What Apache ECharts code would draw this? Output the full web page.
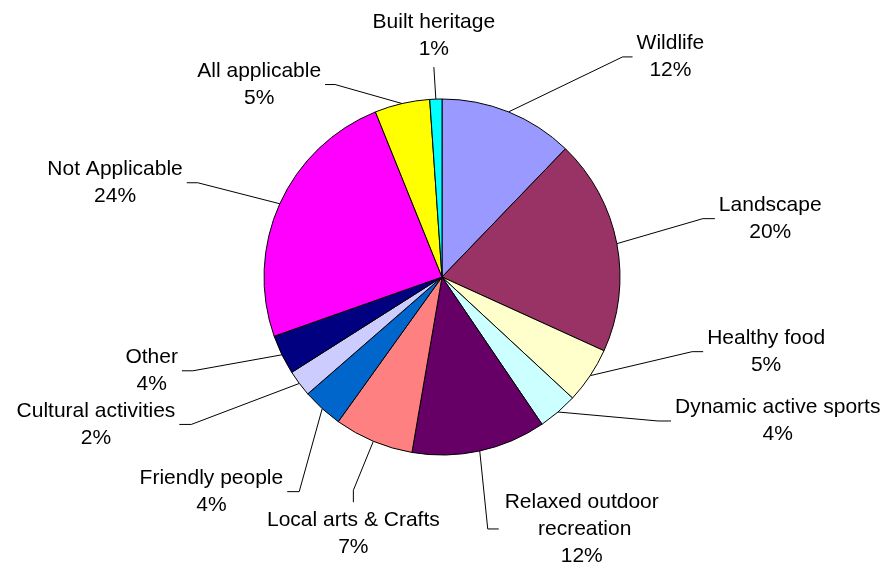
<!DOCTYPE html>
<html>
<head>
<meta charset="utf-8">
<script src="https://cdn.jsdelivr.net/npm/echarts@6/dist/echarts.min.js"></script>
<style>
  html, body { margin: 0; padding: 0; background: #fff; }
  #chart { width: 894px; height: 569px; }
</style>
</head>
<body>
<div id="chart"></div>
<script>
// ---- data ----
const categories = [
  'Wildlife', 'Landscape', 'Healthy food', 'Dynamic active sports',
  'Relaxed outdoor recreation', 'Local arts & Crafts', 'Friendly people',
  'Cultural activities', 'Other', 'Not Applicable', 'All applicable', 'Built heritage'
];
const shares = [12.2, 19.6, 5.1, 3.6, 12.2, 7.2, 3.7, 2.4, 3.6, 24.3, 5.0, 1.1];

// ---- styles ----
const sliceColors = [
  '#9999FF', '#993366', '#FFFFCC', '#CCFFFF', '#660066', '#FF8080',
  '#0066CC', '#CCCCFF', '#000080', '#FF00FF', '#FFFF00', '#00FFFF'
];
// leader line shape relative to the slice edge point given by ECharts
const leaderStyle = [
  { mode: 'side', dx: 114, dy: -55, h: 10 },
  { mode: 'side', dx: 86, dy: -25, h: 12 },
  { mode: 'side', dx: 102, dy: -24, h: 11 },
  { mode: 'side', dx: 100, dy: 9, h: 13 },
  { mode: 'side', dx: 8, dy: 78, h: 11 },
  { mode: 'below', dx: -20, dy: 49, v: 12 },
  { mode: 'side', dx: -23, dy: 83, h: -12 },
  { mode: 'side', dx: -108, dy: 41, h: -12 },
  { mode: 'side', dx: -89, dy: 16, h: -11 },
  { mode: 'side', dx: -82, dy: -21, h: -11 },
  { mode: 'side', dx: -67, dy: -19, h: -10 },
  { mode: 'above', dx: -2, dy: -32 }
];
const GAP = 4;

const chart = echarts.init(document.getElementById('chart'), null, { renderer: 'canvas' });

const data = categories.map((name, i) => {
  const item = { name: name, value: shares[i], itemStyle: { color: sliceColors[i] } };
  if (name === 'Relaxed outdoor recreation') {
    item.label = { width: 158, overflow: 'break' };
  }
  return item;
});

chart.setOption({
  animation: false,
  backgroundColor: '#ffffff',
  series: [{
    type: 'pie',
    center: [442, 277],
    radius: 178,
    startAngle: 90,
    clockwise: true,
    avoidLabelOverlap: false,
    data: data,
    itemStyle: { borderColor: '#000', borderWidth: 1 },
    label: {
      show: true,
      position: 'outside',
      formatter: (p) => p.name + '\n' + Math.round(p.percent) + '%',
      fontFamily: 'Liberation Sans, Arial, sans-serif',
      fontSize: 21,
      lineHeight: 27,
      color: '#000',
      align: 'center'
    },
    labelLine: {
      show: true,
      length: 20,
      length2: 10,
      lineStyle: { color: '#000', width: 1 }
    },
    emphasis: { disabled: true },
    labelLayout: function (p) {
      const s = leaderStyle[p.dataIndex];
      const pts = p.labelLinePoints;
      if (!pts) return {};
      const p0 = pts[0];
      const e = [p0[0] + s.dx, p0[1] + s.dy];
      const w = p.labelRect.width;
      if (s.mode === 'side') {
        const end = [e[0] + s.h, e[1]];
        const sign = s.h > 0 ? 1 : -1;
        return {
          x: end[0] + sign * (GAP + w / 2),
          y: end[1],
          align: 'center',
          verticalAlign: 'middle',
          labelLinePoints: [p0, e, end]
        };
      }
      if (s.mode === 'above') {
        return {
          x: e[0],
          y: e[1] - GAP,
          align: 'center',
          verticalAlign: 'bottom',
          labelLinePoints: [p0, e, e]
        };
      }
      const end = [e[0], e[1] + s.v];
      return {
        x: end[0],
        y: end[1] + GAP,
        align: 'center',
        verticalAlign: 'top',
        labelLinePoints: [p0, e, end]
      };
    }
  }]
});
</script>
</body>
</html>
